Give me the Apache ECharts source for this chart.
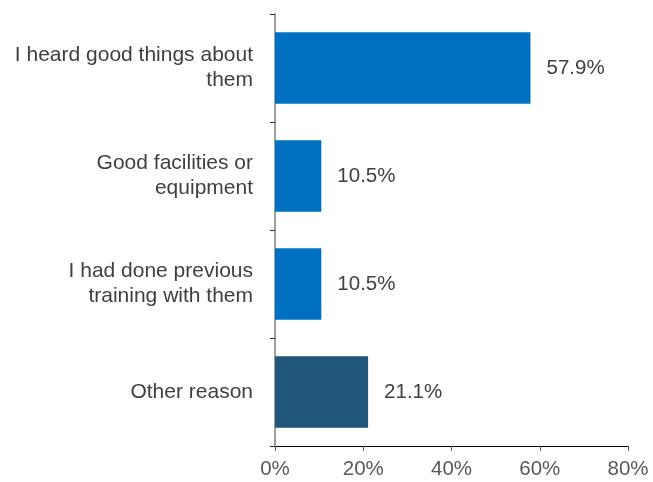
<!DOCTYPE html>
<html>
<head>
<meta charset="utf-8">
<script src="https://cdn.jsdelivr.net/npm/echarts@6/dist/echarts.min.js"></script>
<style>
  html, body { margin: 0; padding: 0; background: #fff; }
  #myChart { width: 653px; height: 482px; }
</style>
</head>
<body>
<div id="myChart"></div>
<script>
// 类目和数值
var categories = [
  "I heard good things about\nthem",
  "Good facilities or\nequipment",
  "I had done previous\ntraining with them",
  "Other reason"
];
var values = [57.9, 10.5, 10.5, 21.1];
var barColors = ["#0070C0", "#0070C0", "#0070C0", "#1F5679"];
var xTicks = [0, 20, 40, 60, 80];

var myChart = echarts.init(document.getElementById("myChart"));
myChart.setOption({
  animation: false,
  grid: {
    top: 14,
    bottom: 36,
    left: 275,
    right: 25,
    containLabel: false
  },
  xAxis: {
    type: "value",
    min: xTicks[0],
    max: xTicks[xTicks.length - 1],
    interval: 20,
    splitLine: { show: false },
    axisLine: { show: true, lineStyle: { color: "#000", width: 1 } },
    axisTick: { show: true, length: 5, lineStyle: { color: "#555" } },
    axisLabel: {
      formatter: "{value}%",
      color: "#595959",
      fontSize: 20.5,
      fontFamily: "Liberation Sans",
      margin: 13
    }
  },
  yAxis: {
    type: "category",
    inverse: true,
    data: categories,
    axisLine: { show: true, lineStyle: { color: "#7f7f7f", width: 1.5 } },
    axisTick: { show: true, length: 5, alignWithLabel: false, lineStyle: { color: "#333" } },
    axisLabel: {
      color: "#404040",
      fontSize: 21,
      fontFamily: "Liberation Sans",
      lineHeight: 25,
      margin: 22,
      align: "right"
    }
  },
  series: [
    {
      type: "bar",
      barCategoryGap: "34%",
      data: values.map(function (v, i) {
        return { value: v, itemStyle: { color: barColors[i] } };
      }),
      label: {
        show: true,
        position: "right",
        distance: 16,
        color: "#404040",
        fontSize: 20.5,
        fontFamily: "Liberation Sans",
        formatter: function (p) {
          return p.value.toFixed(1) + "%";
        }
      }
    }
  ]
});
</script>
</body>
</html>
